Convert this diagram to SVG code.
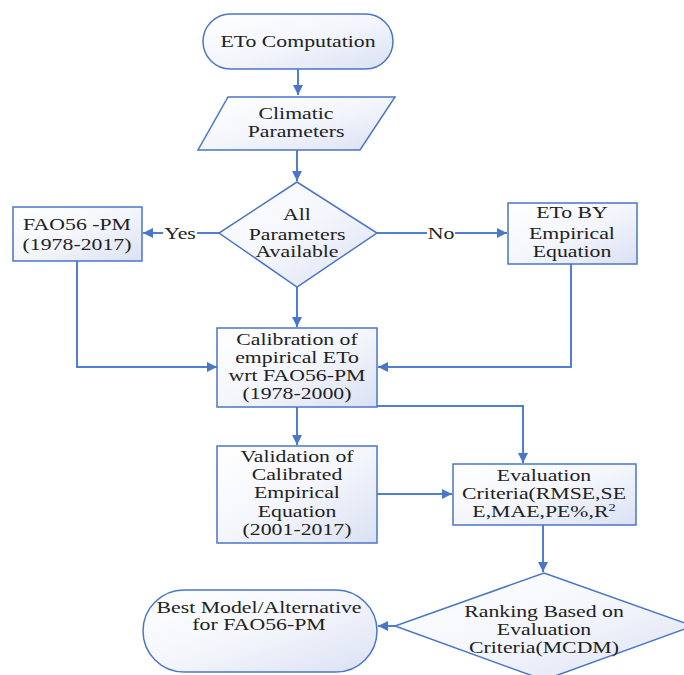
<svg xmlns="http://www.w3.org/2000/svg" width="684" height="675" viewBox="0 0 684 675">
<style>
.node{stroke:#4a76c6;stroke-width:1.5;fill:url(#g)}
.t{font-family:"Liberation Serif","Times New Roman",serif;font-size:16.5px;fill:#222;text-anchor:middle}
.c{fill:none;stroke:#4f7fd0;stroke-width:2}
.lbl{font-family:"Liberation Serif","Times New Roman",serif;font-size:16.5px;fill:#222;text-anchor:middle}
</style>
<defs>
<linearGradient id="g" x1="0" y1="0" x2="1" y2="1">
<stop offset="0" stop-color="#ffffff"/>
<stop offset="0.5" stop-color="#f4f6fc"/>
<stop offset="1" stop-color="#dbe1f3"/>
</linearGradient>
<marker id="a" viewBox="0 0 10 10" refX="10" refY="5" markerWidth="5" markerHeight="5" orient="auto" markerUnits="strokeWidth">
<path d="M0,0 L10,5 L0,10 z" fill="#4a76c6"/>
</marker>
</defs>
<rect width="684" height="675" fill="#ffffff"/>
<g id="connectors">
<path class="c" d="M298,69 V95" marker-end="url(#a)"/>
<path class="c" d="M297,150 V181" marker-end="url(#a)"/>
<path class="c" d="M219,233 H143" marker-end="url(#a)"/>
<path class="c" d="M377,233 H507" marker-end="url(#a)"/>
<path class="c" d="M297,287 V327" marker-end="url(#a)"/>
<path class="c" d="M77,261 V367 H217" marker-end="url(#a)"/>
<path class="c" d="M571,264 V367 H378" marker-end="url(#a)"/>
<path class="c" d="M377,406 H523 V463" marker-end="url(#a)"/>
<path class="c" d="M297,407 V445" marker-end="url(#a)"/>
<path class="c" d="M377,494 H452" marker-end="url(#a)"/>
<path class="c" d="M543,525 V572" marker-end="url(#a)"/>
<path class="c" d="M395,626 H378" marker-end="url(#a)"/>
<rect x="163" y="224" width="34" height="18" fill="#ffffff"/>
<text class="lbl" transform="translate(180,239) scale(1.32,1)">Yes</text>
<rect x="427" y="224" width="28" height="18" fill="#ffffff"/>
<text class="lbl" transform="translate(441,239) scale(1.32,1)">No</text>
</g>
<g id="eto-computation">
<rect class="node" x="203" y="14" width="190" height="55" rx="27.5"/>
<text class="t" transform="translate(298,47) scale(1.32,1)">ETo Computation</text>
</g>
<g id="climatic-parameters">
<polygon class="node" points="228,97 395,97 360,150 198,150"/>
<text class="t" transform="translate(296,119) scale(1.32,1)">Climatic</text>
<text class="t" transform="translate(296,137) scale(1.32,1)">Parameters</text>
</g>
<g id="all-parameters">
<polygon class="node" points="297,182 377,233 297,287 219,233"/>
<text class="t" transform="translate(297,220) scale(1.32,1)">All</text>
<text class="t" transform="translate(297,240) scale(1.32,1)">Parameters</text>
<text class="t" transform="translate(297,257) scale(1.32,1)">Available</text>
</g>
<g id="fao56-pm">
<rect class="node" x="13" y="207" width="129" height="54"/>
<text class="t" transform="translate(77,230) scale(1.32,1)">FAO56 -PM</text>
<text class="t" transform="translate(77,250) scale(1.32,1)">(1978-2017)</text>
</g>
<g id="eto-by-empirical">
<rect class="node" x="508" y="203" width="129" height="61"/>
<text class="t" transform="translate(572,218) scale(1.32,1)">ETo BY</text>
<text class="t" transform="translate(572,239) scale(1.32,1)">Empirical</text>
<text class="t" transform="translate(572,257) scale(1.32,1)">Equation</text>
</g>
<g id="calibration">
<rect class="node" x="217" y="328" width="160" height="79"/>
<text class="t" transform="translate(297,345) scale(1.32,1)">Calibration of</text>
<text class="t" transform="translate(297,363) scale(1.32,1)">empirical ETo</text>
<text class="t" transform="translate(297,381) scale(1.32,1)">wrt FAO56-PM</text>
<text class="t" transform="translate(297,399) scale(1.32,1)">(1978-2000)</text>
</g>
<g id="validation">
<rect class="node" x="217" y="446" width="160" height="97"/>
<text class="t" transform="translate(297,462) scale(1.32,1)">Validation of</text>
<text class="t" transform="translate(297,480) scale(1.32,1)">Calibrated</text>
<text class="t" transform="translate(297,498) scale(1.32,1)">Empirical</text>
<text class="t" transform="translate(297,517) scale(1.32,1)">Equation</text>
<text class="t" transform="translate(297,535) scale(1.32,1)">(2001-2017)</text>
</g>
<g id="evaluation-criteria">
<rect class="node" x="453" y="464" width="183" height="61"/>
<text class="t" transform="translate(544,481) scale(1.32,1)">Evaluation</text>
<text class="t" transform="translate(544,499) scale(1.32,1)">Criteria(RMSE,SE</text>
<text class="t" transform="translate(544,517) scale(1.32,1)">E,MAE,PE%,R<tspan font-size="11" dy="-6">2</tspan></text>
</g>
<g id="ranking">
<polygon class="node" points="544,573 693,626 544,680 395,626"/>
<text class="t" transform="translate(544,617) scale(1.32,1)">Ranking Based on</text>
<text class="t" transform="translate(544,635) scale(1.32,1)">Evaluation</text>
<text class="t" transform="translate(544,653) scale(1.32,1)">Criteria(MCDM)</text>
</g>
<g id="best-model">
<rect class="node" x="143" y="590" width="234" height="82" rx="41"/>
<text class="t" transform="translate(259,613) scale(1.32,1)">Best Model/Alternative</text>
<text class="t" transform="translate(259,630) scale(1.32,1)">for FAO56-PM</text>
</g>
</svg>
